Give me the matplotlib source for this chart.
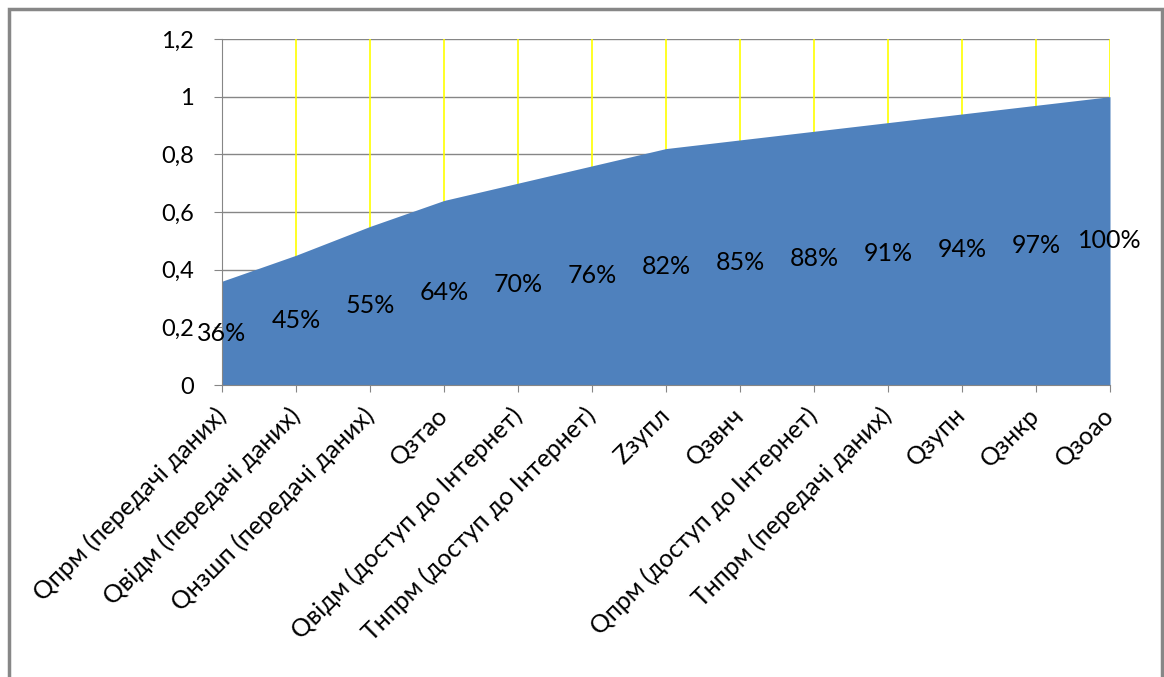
import matplotlib
matplotlib.use("Agg")
import matplotlib.pyplot as plt
from matplotlib.patches import Rectangle

categories = [
    "Qпрм (передачі даних)",
    "Qвідм (передачі даних)",
    "Qнзшп (передачі даних)",
    "Qзтао",
    "Qвідм (доступ до Інтернет)",
    "Tнпрм (доступ до Інтернет)",
    "Zзупл",
    "Qзвнч",
    "Qпрм (доступ до Інтернет)",
    "Tнпрм (передачі даних)",
    "Qзупн",
    "Qзнкр",
    "Qзоао",
]
values = [0.36, 0.45, 0.55, 0.64, 0.70, 0.76, 0.82, 0.85, 0.88, 0.91, 0.94, 0.97, 1.00]
labels = ["36%", "45%", "55%", "64%", "70%", "76%", "82%", "85%", "88%", "91%", "94%", "97%", "100%"]
y_ticks = [0, 0.2, 0.4, 0.6, 0.8, 1.0, 1.2]
y_ticklabels = ["0", "0,2", "0,4", "0,6", "0,8", "1", "1,2"]

plt.rcParams['font.family'] = ['Lato', 'DejaVu Sans']

fig = plt.figure(figsize=(11.64, 6.77), dpi=100)
fig.patch.set_facecolor("white")
ax = fig.add_axes([222/1164, 1 - 385/677, (1110-222)/1164, (385-39)/677])

x = list(range(len(categories)))
ax.fill_between(x, 0, values, color="#4F81BD", linewidth=0, zorder=2)

ax.set_xlim(0, len(categories) - 1)
ax.set_ylim(0, 1.2)

for yt in y_ticks[1:]:
    ax.axhline(yt, color="#868686", lw=1, zorder=1)
for xi in x[1:]:
    ax.axvline(xi, color="#FFFF00", lw=1.2, zorder=1)

ax.set_yticks(y_ticks)
ax.set_yticklabels(y_ticklabels, fontsize=17)
ax.set_xticks(x)
ax.set_xticklabels(categories, rotation=45, ha="right", va="center",
                   rotation_mode="anchor", fontsize=18)
ax.tick_params(axis="x", direction="out", length=5, color="#868686", pad=14)
ax.tick_params(axis="y", direction="out", length=6, color="#868686", pad=14)

for s in ["top", "right"]:
    ax.spines[s].set_visible(False)
ax.spines["left"].set_color("#868686")
ax.spines["bottom"].set_color("#868686")
ax.spines["left"].set_zorder(3)

for xi, v, lab in zip(x, values, labels):
    ax.text(xi, v / 2, lab, ha="center", va="center", fontsize=18, color="black", zorder=4)

fig.patches.append(Rectangle((9/1164, -0.05), (1162-9)/1164, 1.05 - 9/677,
                             transform=fig.transFigure, fill=False,
                             edgecolor="#878787", linewidth=2.5))

fig.savefig("out.png", dpi=100)
